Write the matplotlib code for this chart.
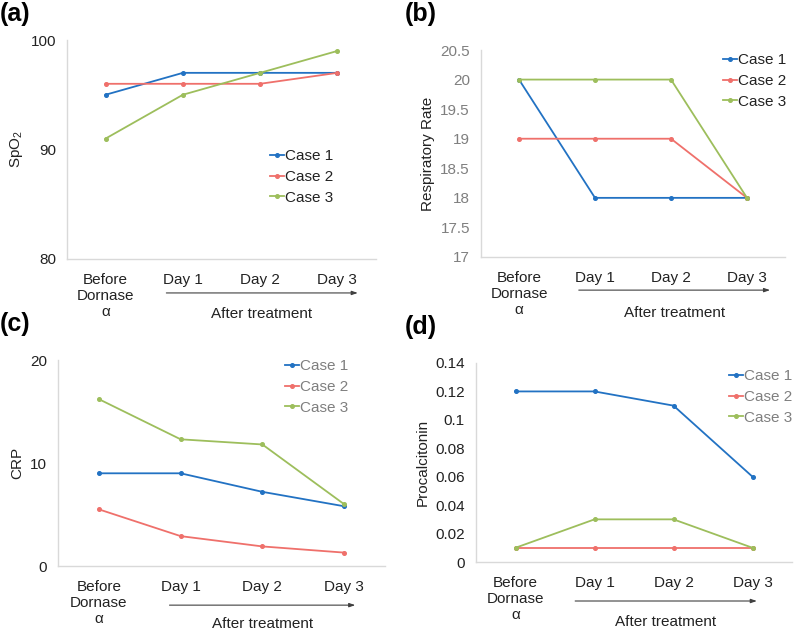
import matplotlib
matplotlib.use("Agg")
import matplotlib.pyplot as plt

plt.rcParams["font.family"] = ["Liberation Sans", "DejaVu Sans"]
plt.rcParams["mathtext.fontset"] = "custom"
plt.rcParams["mathtext.rm"] = "Liberation Sans"
plt.rcParams["mathtext.it"] = "Liberation Sans:italic"

categories = ["Before\nDornase\nα", "Day 1", "Day 2", "Day 3"]
cases = ["Case 1", "Case 2", "Case 3"]

spo2 = [[95, 97, 97, 97], [96, 96, 96, 97], [91, 95, 97, 99]]
resp_rate = [[20, 18, 18, 18], [19, 19, 19, 18], [20, 20, 20, 18]]
crp = [[9.0, 9.0, 7.2, 5.8], [5.5, 2.9, 1.9, 1.3], [16.2, 12.3, 11.8, 6.0]]
pct = [[0.12, 0.12, 0.11, 0.06], [0.01, 0.01, 0.01, 0.01], [0.01, 0.03, 0.03, 0.01]]

colors = ["#2272C3", "#EF706B", "#9DBE5C"]

W, H = 795, 631
fig = plt.figure(figsize=(W / 100, H / 100), dpi=100)


def px_axes(l, t, r, b):
    return fig.add_axes([l / W, 1 - b / H, (r - l) / W, (b - t) / H])


panels = [
    # tag, box(l,t,r,b), data, ylabel, yticks, ticklabels, tick color, legend(x,y), legend text color, arrow(x0,x1,y,ty)
    ("(a)", (67, 40, 376, 259), spo2, "SpO$_2$", [80, 90, 100], ["80", "90", "100"],
     "#222222", (270, 149), "#222222", (0.75, 3.3, -0.155, -0.25)),
    ("(b)", (481, 50, 785, 257), resp_rate, "Respiratory Rate",
     [17, 17.5, 18, 18.5, 19, 19.5, 20, 20.5],
     ["17", "17.5", "18", "18.5", "19", "19.5", "20", "20.5"],
     "#7F7F7F", (723, 53), "#222222", (0.75, 3.34, -0.16, -0.27)),
    ("(c)", (58, 360, 385, 566), crp, "CRP", [0, 10, 20], ["0", "10", "20"],
     "#222222", (285, 359), "#7F7F7F", (0.83, 3.17, -0.19, -0.28)),
    ("(d)", (476, 363, 792, 562), pct, "Procalcitonin",
     [0, 0.02, 0.04, 0.06, 0.08, 0.1, 0.12, 0.14],
     ["0", "0.02", "0.04", "0.06", "0.08", "0.1", "0.12", "0.14"],
     "#222222", (729, 369), "#7F7F7F", (0.72, 3.09, -0.196, -0.30)),
]

tag_pos = [(0, 2), (405, 2), (0, 312), (405, 315)]

for (tag, box, data, ylab, yt, ytl, tcol, lpos, lcol, arr), tp in zip(panels, tag_pos):
    ax = px_axes(*box)
    x = range(len(categories))
    for i, series in enumerate(data):
        ax.plot(x, series, color=colors[i], lw=1.3, marker="o", ms=2.6,
                label=cases[i])
    ax.set_xlim(-0.5, 3.5)
    ax.set_ylim(yt[0], yt[-1])
    ax.set_yticks(yt)
    ax.set_yticklabels(ytl, color=tcol, fontsize=11)
    ax.set_xticks(list(x))
    ax.set_xticklabels(categories, fontsize=11, color="#222222", linespacing=1.2)
    ax.tick_params(length=0)
    ax.tick_params(axis="x", pad=10)
    ax.tick_params(axis="y", pad=8)
    for s in ["top", "right"]:
        ax.spines[s].set_visible(False)
    for s in ["left", "bottom"]:
        ax.spines[s].set_color("#D9D9D9")
        ax.spines[s].set_linewidth(1)
    ax.set_ylabel(ylab, fontsize=11, color="#222222", labelpad=4)
    leg = ax.legend(loc="upper left", bbox_to_anchor=(lpos[0] / W, 1 - lpos[1] / H),
                    bbox_transform=fig.transFigure, frameon=False, fontsize=11,
                    handlelength=0.9, handletextpad=0.1, labelspacing=0.45,
                    borderpad=0, borderaxespad=0)
    for t in leg.get_texts():
        t.set_color(lcol)
    x0, x1, ya, yt_ = arr
    ax.annotate("", xy=(x1, ya), xytext=(x0, ya),
                xycoords=ax.get_xaxis_transform(), textcoords=ax.get_xaxis_transform(),
                arrowprops=dict(arrowstyle="-|>,head_length=0.35,head_width=0.12",
                                color="#404040", lw=0.8), annotation_clip=False)
    ax.text((x0 + x1) / 2, yt_, "After treatment", transform=ax.get_xaxis_transform(),
            ha="center", va="center", fontsize=11, color="#222222")
    fig.text(tp[0] / W, 1 - tp[1] / H, tag, fontsize=18, fontweight="bold",
             ha="left", va="top")

fig.savefig("out.png", dpi=100)
